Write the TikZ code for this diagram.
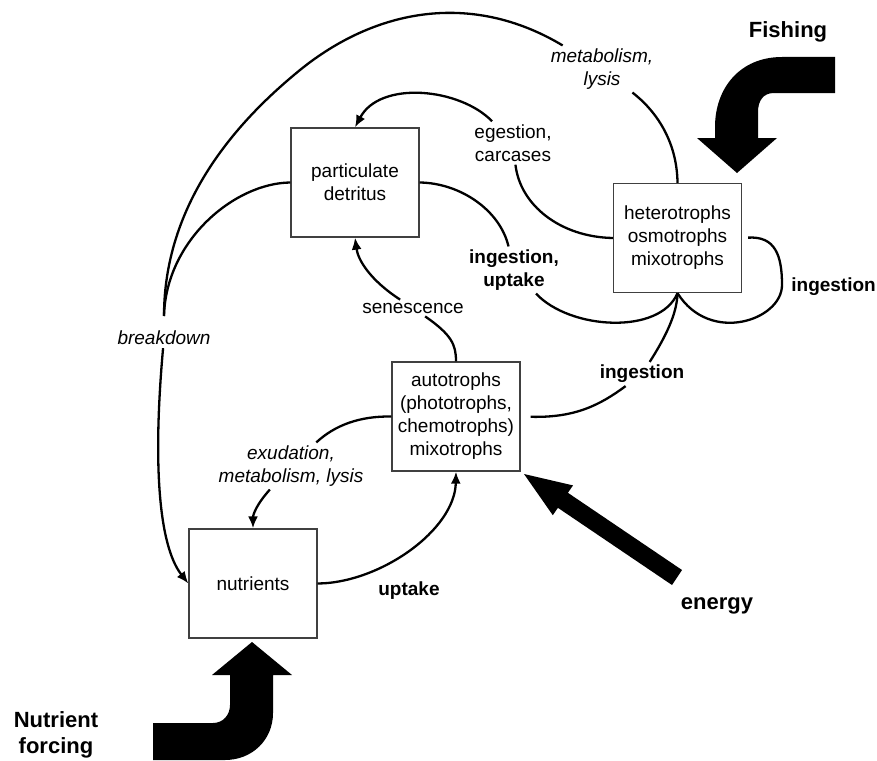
\documentclass[tikz,border=0pt]{standalone}
\usepackage{fontspec}
\setmainfont{Liberation Sans}
\usepackage{tikz}
\usetikzlibrary{arrows.meta, positioning}
\tikzstyle{pool}  = [rectangle, draw=black!75, line width=1.3pt, minimum width=128pt,
                     minimum height=109pt, align=center,
                     font=\fontsize{19}{23}\selectfont]
\tikzstyle{lab}   = [align=center, inner sep=3pt, font=\fontsize{19}{23}\selectfont]
\tikzstyle{ilab}  = [lab, font=\fontsize{19}{23}\selectfont\itshape]
\tikzstyle{blab}  = [lab, font=\fontsize{19}{23}\selectfont\bfseries]
\tikzstyle{flab}  = [lab, font=\fontsize{22}{26}\selectfont\bfseries]
\tikzstyle{flow}  = [line width=2.3pt]
\tikzstyle{flowarrow} = [flow, -{Latex[length=12pt, width=10pt]}]
\tikzstyle{forcing}   = [fill=black]

\begin{document}
\begin{tikzpicture}[x=1pt, y=-1pt]
  \useasboundingbox (0,0) rectangle (877,760);

  % Pools
  \node[pool] (part) at (355,182.5) {particulate\\detritus};
  \node[pool] (het)  at (677.5,238) {heterotrophs\\osmotrophs\\mixotrophs};
  \node[pool] (auto) at (456,416.5) {autotrophs\\(phototrophs,\\chemotrophs)\\mixotrophs};
  \node[pool] (nut)  at (253,583.5) {nutrients};

  % Flow labels
  \node[ilab] (metlab) at (602,69)  {metabolism,\\lysis};
  \node[lab]  (egelab) at (513,143) {egestion,\\carcases};
  \node[blab] (inglab) at (514,270) {ingestion,\\uptake};
  \node[blab, anchor=east, inner sep=0pt] (ingself) at (876,287) {ingestion};
  \node[blab] (ingaut) at (642,374) {ingestion};
  \node[lab]  (senlab) at (413,308) {senescence};
  \node[ilab] (bdlab)  at (164,338) {breakdown};
  \node[ilab] (exulab) at (291,466) {exudation,\\metabolism, lysis};
  \node[blab] (uptlab) at (409,591) {uptake};
  \coordinate (brk) at (164,316);

  % Recycling
  \draw[flow] (het.north) .. controls (677,140) and (655,110) .. (metlab);
  \draw[flow] (metlab) .. controls (470,-10) and (374,10) .. (300,70)
                       .. controls (246,114) and (164,196) .. (brk);
  \draw[flow] (part.west) .. controls (235,183) and (166,240) .. (brk);
  \draw[flowarrow] (bdlab) .. controls (153,460) and (158,545) .. (nut.west);
  \draw[flow] (het.west) .. controls (560,237) and (520,205) .. (egelab);
  \draw[flowarrow] (egelab) .. controls (460,88) and (380,80) .. (part.north);
  \draw[flow] (auto.north) .. controls (456,345) and (452,335) .. (senlab);
  \draw[flowarrow] (senlab) .. controls (370,280) and (358,260) .. (part.south);
  \draw[flow] (auto.west) .. controls (360,416) and (335,425) .. (exulab);
  \draw[flowarrow] (exulab) .. controls (256,505) and (253,515) .. (nut.north);
  \draw[flowarrow] (nut.east) .. controls (380,583) and (455,530) .. (auto.south);

  % Grazing
  \draw[flow] (part.east) .. controls (460,183) and (500,210) .. (inglab);
  \draw[flow] (inglab) .. controls (570,330) and (660,335) .. (het.south);
  \draw[flow, shorten <=6pt] (het.east) .. controls (775,236) and (782,255) .. (782,285)
                       .. controls (782,320) and (710,345) .. (het.south);
  \draw[flow, shorten <=10pt] (auto.east) .. controls (575,418) and (600,405) .. (ingaut);
  \draw[flow] (ingaut) .. controls (670,330) and (677,310) .. (het.south);

  % Forcings
  \node[flab] (fishlab)   at (788,32)  {Fishing};
  \node[flab] (energylab) at (717,606) {energy};
  \node[flab] (nflab)     at (56,735)  {Nutrient\\forcing};
  \fill[forcing] (835,57) -- (782,57) .. controls (740,57) and (715,88) .. (715,127)
    -- (715,138) -- (697,138) -- (737,173) -- (777,138) -- (758,138) -- (758,112)
    .. controls (758,101) and (763,93) .. (774,93) -- (835,93) -- cycle;
  \fill[forcing] (682,570) -- (567.9,492.8) -- (573,485.4) -- (524,474)
    -- (552.8,515.2) -- (557.9,507.8) -- (672,585) -- cycle;
  \fill[forcing] (153,723) -- (213,723) .. controls (223,723) and (230,715) .. (230,705)
    -- (230,675) -- (212,675) -- (252,642) -- (292,675) -- (273,675) -- (273,713)
    .. controls (273,740) and (252,760) .. (225,760) -- (153,760) -- cycle;
\end{tikzpicture}
\end{document}
